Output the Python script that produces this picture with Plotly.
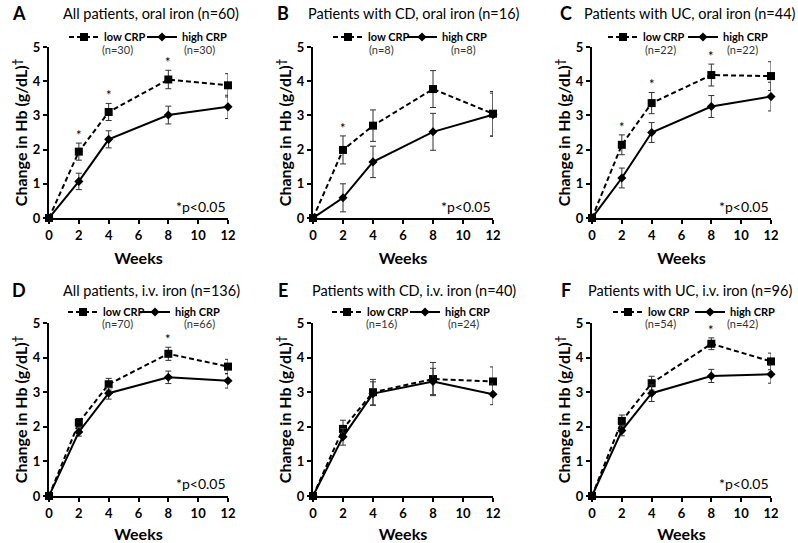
import plotly.graph_objects as go

weeks = [0, 2, 4, 8, 12]
x_ticks = [0, 2, 4, 6, 8, 10, 12]
y_ticks = [0, 1, 2, 3, 4, 5]

letters = ["A", "B", "C", "D", "E", "F"]
titles = [
    "All patients, oral iron (n=60)",
    "Patients with CD, oral iron (n=16)",
    "Patients with UC, oral iron (n=44)",
    "All patients, i.v. iron (n=136)",
    "Patients with CD, i.v. iron (n=40)",
    "Patients with UC, i.v. iron (n=96)",
]

A_low = [0, 1.94, 3.10, 4.05, 3.88]
A_low_err = [0, 0.25, 0.25, 0.27, 0.34]
A_high = [0, 1.07, 2.30, 3.01, 3.25]
A_high_err = [0, 0.24, 0.25, 0.26, 0.34]

B_low = [0, 1.99, 2.70, 3.77, 3.05]
B_low_err = [0, 0.41, 0.46, 0.54, 0.65]
B_high = [0, 0.59, 1.64, 2.52, 3.02]
B_high_err = [0, 0.41, 0.46, 0.54, 0.63]

C_low = [0, 2.14, 3.36, 4.18, 4.15]
C_low_err = [0, 0.29, 0.31, 0.32, 0.42]
C_high = [0, 1.17, 2.50, 3.26, 3.55]
C_high_err = [0, 0.29, 0.29, 0.32, 0.42]

D_low = [0, 2.12, 3.23, 4.11, 3.74]
D_low_err = [0, 0.12, 0.17, 0.19, 0.21]
D_high = [0, 1.85, 2.97, 3.43, 3.33]
D_high_err = [0, 0.12, 0.17, 0.18, 0.21]

E_low = [0, 1.94, 3.00, 3.38, 3.31]
E_low_err = [0, 0.25, 0.37, 0.48, 0.42]
E_high = [0, 1.71, 2.96, 3.31, 2.94]
E_high_err = [0, 0.24, 0.34, 0.38, 0.30]

F_low = [0, 2.17, 3.26, 4.40, 3.89]
F_low_err = [0, 0.17, 0.20, 0.17, 0.24]
F_high = [0, 1.89, 2.97, 3.47, 3.52]
F_high_err = [0, 0.15, 0.24, 0.19, 0.26]

low_vals = [A_low, B_low, C_low, D_low, E_low, F_low]
low_errs = [A_low_err, B_low_err, C_low_err, D_low_err, E_low_err, F_low_err]
high_vals = [A_high, B_high, C_high, D_high, E_high, F_high]
high_errs = [A_high_err, B_high_err, C_high_err, D_high_err, E_high_err, F_high_err]

significant_weeks = [[2, 4, 8], [2], [2, 4, 8], [8], [], [8]]
show_p = [True, True, True, True, False, True]
n_low = [30, 8, 22, 70, 16, 54]
n_high = [30, 8, 22, 66, 24, 42]

W, H = 798, 543
FONT = "Lato"


def px(xp):
    return xp / W


def py(yp):
    return 1 - yp / H


# layout in window pixels
col_left = [49, 313, 592]
col_right = [228, 493, 771]
row_top = [47, 323]
row_bot = [218, 496]
letter_x = [19, 283, 566]
title_cx = [151, 414, 690]
title_y_px = [13, 290]
legend_y_px = [37, 312]
n_y_px = [50, 323]
low_text_start = [55, 55, 51, 54, 54, 56]
high_text_start = [133, 129, 131, 126, 132, 138]

fig = go.Figure()
annotations = []

for i in range(6):
    r, c = divmod(i, 3)
    k = i + 1
    xa = "x" if k == 1 else f"x{k}"
    ya = "y" if k == 1 else f"y{k}"
    leg_low = "legend" if k == 1 else f"legend{2 * k - 1}"
    leg_high = f"legend{2 * k}"

    fig.add_trace(go.Scatter(
        x=weeks, y=low_vals[i], name="low CRP", mode="lines+markers",
        line=dict(color="black", width=2, dash="5px,3px"),
        marker=dict(symbol="square", size=8, color="black"),
        error_y=dict(type="data", array=low_errs[i], color="#333333", thickness=1, width=3),
        xaxis=xa, yaxis=ya, legend=leg_low, cliponaxis=False,
    ))
    fig.add_trace(go.Scatter(
        x=weeks, y=high_vals[i], name="high CRP", mode="lines+markers",
        line=dict(color="black", width=2),
        marker=dict(symbol="diamond", size=7, color="black"),
        error_y=dict(type="data", array=high_errs[i], color="#333333", thickness=1, width=3),
        xaxis=xa, yaxis=ya, legend=leg_high, cliponaxis=False,
    ))

    ax_common = dict(showline=True, linecolor="black", linewidth=2, showgrid=False,
                     zeroline=False, ticks="outside", ticklen=4, tickwidth=1.5,
                     tickcolor="black", automargin=False,
                     tickfont=dict(family=FONT, size=13, color="black", weight="bold"))
    fig.layout[xa.replace("x", "xaxis")] = dict(
        domain=[px(col_left[c]), px(col_right[c])], anchor=ya, range=[0, 12],
        tickvals=x_ticks,
        title=dict(text="Weeks", font=dict(family=FONT, size=16, color="black", weight="bold"),
                   standoff=11),
        **ax_common)
    fig.layout[ya.replace("y", "yaxis")] = dict(
        domain=[py(row_bot[r]), py(row_top[r])], anchor=xa, range=[0, 5], tickvals=y_ticks,
        title=dict(text="Change in Hb (g/dL)<sup>†</sup>",
                   font=dict(family=FONT, size=16, color="black", weight="bold"), standoff=1),
        **ax_common)

    for leg, ts in ((leg_low, low_text_start[i]), (leg_high, high_text_start[i])):
        fig.layout[leg] = dict(x=px(col_left[c] + ts - 40), y=py(legend_y_px[r]),
                               xanchor="left", yanchor="middle",
                               orientation="h", bgcolor="rgba(0,0,0,0)",
                               itemclick=False, borderwidth=0,
                               font=dict(family=FONT, size=11, color="black", weight="bold"))

    # panel letter and title
    annotations.append(dict(text=f"<b>{letters[i]}</b>", xref="paper", yref="paper",
                            x=px(letter_x[c]), y=py(title_y_px[r]),
                            xanchor="center", yanchor="middle", showarrow=False,
                            font=dict(family=FONT, size=18, color="black")))
    annotations.append(dict(text=titles[i], xref="paper", yref="paper",
                            x=px(title_cx[c]), y=py(title_y_px[r]),
                            xanchor="center", yanchor="middle", showarrow=False,
                            font=dict(family=FONT, size=14.5, color="black")))
    # n labels
    annotations.append(dict(text=f"(n={n_low[i]})", xref="paper", yref="paper",
                            x=px(col_left[c] + 68), y=py(n_y_px[r]), xanchor="center",
                            yanchor="middle", showarrow=False,
                            font=dict(family=FONT, size=11, color="#333333")))
    annotations.append(dict(text=f"(n={n_high[i]})", xref="paper", yref="paper",
                            x=px(col_left[c] + 150), y=py(n_y_px[r]), xanchor="center",
                            yanchor="middle", showarrow=False,
                            font=dict(family=FONT, size=11, color="#333333")))
    # significance asterisks
    for wk in significant_weeks[i]:
        j = weeks.index(wk)
        annotations.append(dict(text="*", xref=xa, yref=ya, x=wk,
                                y=low_vals[i][j] + low_errs[i][j], yanchor="bottom",
                                showarrow=False, yshift=-2,
                                font=dict(family=FONT, size=13, color="black")))
    if show_p[i]:
        annotations.append(dict(text="*p<0.05", xref=f"{xa} domain", yref=f"{ya} domain",
                                x=1.0, y=0.07, xanchor="right", yanchor="middle",
                                showarrow=False,
                                font=dict(family=FONT, size=14, color="black")))

fig.update_layout(
    width=W, height=H, margin=dict(l=0, r=0, t=0, b=0),
    paper_bgcolor="white", plot_bgcolor="white",
    annotations=annotations, showlegend=True,
    font=dict(family=FONT, color="black"),
)

fig.write_html("out.html", config={"displayModeBar": False},
               post_script="document.body.style.margin='0px';")
